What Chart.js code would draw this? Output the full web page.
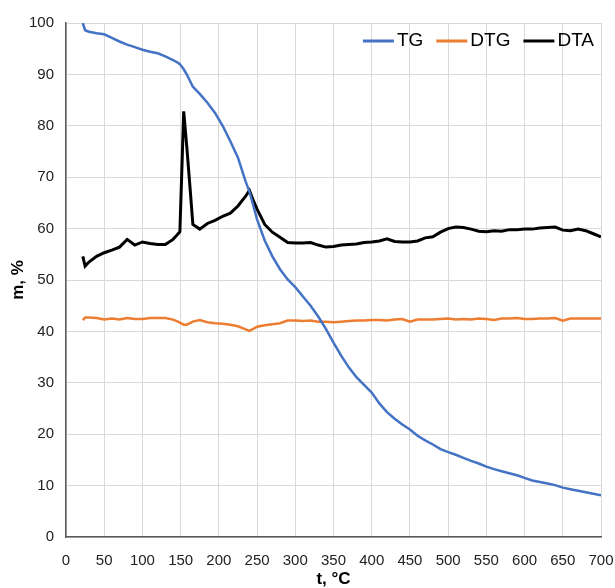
<!DOCTYPE html>
<html>
<head>
<meta charset="utf-8">
<script src="https://cdn.jsdelivr.net/npm/chart.js@4"></script>
<style>
  html, body { margin: 0; padding: 0; background: #fff; }
  #wrap { width: 615px; height: 588px; }
</style>
</head>
<body>
<div id="wrap"><canvas id="chart" width="615" height="588"></canvas></div>
<script>
// temperature, °C (shared by all three curves)
const temps = [22, 25, 30, 40, 50, 60, 70, 80, 90, 100, 110, 120, 130, 140, 145, 149, 154, 158, 162, 166,
  175, 185, 195, 205, 215, 225, 235, 240, 245, 250, 260, 270, 280, 290, 300, 310, 320, 330, 340, 350,
  360, 370, 380, 390, 400, 410, 420, 430, 440, 450, 460, 470, 480, 490, 500, 510, 520, 530, 540, 550,
  560, 570, 580, 590, 600, 610, 620, 630, 640, 650, 660, 670, 680, 690, 700];

const tg = [100, 98.6, 98.3, 98.0, 97.8, 97.1, 96.4, 95.8, 95.3, 94.8, 94.4, 94.1, 93.5, 92.8, 92.4, 92.0, 91.0, 90.0, 88.8, 87.6,
  86.2, 84.5, 82.5, 80.0, 77.0, 73.8, 69.2, 67.2, 64.5, 61.8, 57.7, 54.6, 52.1, 50.1, 48.6, 46.8, 45.0, 42.9, 40.5, 37.8,
  35.3, 33.0, 31.1, 29.6, 28.1, 26.0, 24.3, 23.0, 21.9, 20.9, 19.7, 18.8, 18.0, 17.1, 16.5, 16.0, 15.4, 14.8, 14.3, 13.7,
  13.2, 12.8, 12.4, 12.0, 11.5, 11.0, 10.7, 10.4, 10.1, 9.6, 9.3, 9.0, 8.7, 8.4, 8.1];

const dtg = [42.2, 42.7, 42.7, 42.6, 42.3, 42.5, 42.3, 42.6, 42.4, 42.4, 42.6, 42.6, 42.6, 42.3, 42.0, 41.7, 41.3, 41.3, 41.6, 41.9,
  42.2, 41.8, 41.6, 41.5, 41.3, 41.0, 40.4, 40.1, 40.5, 40.9, 41.2, 41.4, 41.6, 42.1, 42.1, 42.0, 42.1, 41.9, 41.9, 41.8,
  41.9, 42.0, 42.1, 42.1, 42.2, 42.2, 42.1, 42.3, 42.4, 41.9, 42.3, 42.3, 42.3, 42.4, 42.5, 42.3, 42.4, 42.3, 42.5, 42.4,
  42.2, 42.5, 42.5, 42.6, 42.4, 42.4, 42.5, 42.5, 42.6, 42.1, 42.5, 42.5, 42.5, 42.5, 42.5];

const dta = [54.6, 52.7, 53.5, 54.6, 55.3, 55.8, 56.4, 57.9, 56.8, 57.4, 57.1, 56.9, 56.9, 57.9, 58.7, 59.4, 82.8, 76.0, 68.5, 60.8,
  59.9, 61.0, 61.6, 62.4, 63.0, 64.4, 66.3, 67.4, 65.5, 63.8, 60.8, 59.3, 58.3, 57.3, 57.2, 57.2, 57.3, 56.8, 56.4, 56.5,
  56.8, 56.9, 57.0, 57.3, 57.4, 57.6, 58.0, 57.5, 57.4, 57.4, 57.6, 58.2, 58.4, 59.3, 60.0, 60.3, 60.2, 59.9, 59.5, 59.4,
  59.6, 59.5, 59.8, 59.8, 59.9, 59.9, 60.1, 60.2, 60.3, 59.7, 59.6, 59.9, 59.6, 59.0, 58.4];

const series = [
  { label: 'TG', values: tg, color: '#4472c4', width: 2.5 },
  { label: 'DTG', values: dtg, color: '#ed7d31', width: 2.5 },
  { label: 'DTA', values: dta, color: '#000000', width: 3 },
];

const font = 'Liberation Sans, Arial, sans-serif';

// legend drawn inside the plot, top right, like the original
const insideLegend = {
  id: 'insideLegend',
  afterDraw(chart) {
    const ctx = chart.ctx;
    const area = chart.chartArea;
    ctx.save();
    ctx.font = '19px ' + font;
    ctx.textBaseline = 'middle';
    ctx.textAlign = 'left';
    const y = area.top + 18;
    let x = area.right - 7;
    for (let i = chart.data.datasets.length - 1; i >= 0; i--) {
      const ds = chart.data.datasets[i];
      const w = ctx.measureText(ds.label).width;
      x -= w;
      ctx.fillStyle = '#000';
      ctx.fillText(ds.label, x, y);
      x -= 3;
      ctx.strokeStyle = ds.borderColor;
      ctx.lineWidth = 3;
      ctx.beginPath();
      ctx.moveTo(x - 31, y);
      ctx.lineTo(x, y);
      ctx.stroke();
      x -= 31 + 13;
    }
    ctx.restore();
  },
};

new Chart(document.getElementById('chart').getContext('2d'), {
  type: 'line',
  data: {
    datasets: series.map((s) => ({
      label: s.label,
      data: temps.map((t, i) => ({ x: t, y: s.values[i] })),
      borderColor: s.color,
      backgroundColor: s.color,
      borderWidth: s.width,
      pointRadius: 0,
      tension: 0,
      fill: false,
    })),
  },
  options: {
    responsive: false,
    animation: false,
    layout: { padding: { left: 8, right: 0, top: 23, bottom: 0 } },
    plugins: {
      legend: { display: false },
      tooltip: { enabled: false },
    },
    scales: {
      x: {
        type: 'linear',
        min: 0,
        max: 700,
        afterFit: (scale) => {
          scale.height = 51;
          scale.paddingLeft = 0;
          scale.paddingRight = 14;
        },
        ticks: { stepSize: 50, padding: 15, color: '#222', font: { family: font, size: 15 } },
        grid: { color: '#d9d9d9', lineWidth: 1, drawTicks: false },
        border: { color: '#595959', width: 1.5 },
        title: { display: true, text: 't, °C', color: '#000', padding: 0, font: { family: font, size: 17, weight: 'bold', lineHeight: 1 } },
      },
      y: {
        min: 0,
        max: 100,
        afterFit: (scale) => { scale.width = 58; },
        ticks: { stepSize: 10, padding: 12, color: '#222', font: { family: font, size: 15 } },
        grid: { color: '#d9d9d9', lineWidth: 1, drawTicks: false },
        border: { color: '#595959', width: 1.5 },
        title: { display: true, text: 'm, %', color: '#000', padding: { top: 0, bottom: 4 }, font: { family: font, size: 17, weight: 'bold' } },
      },
    },
  },
  plugins: [insideLegend],
});
</script>
</body>
</html>
